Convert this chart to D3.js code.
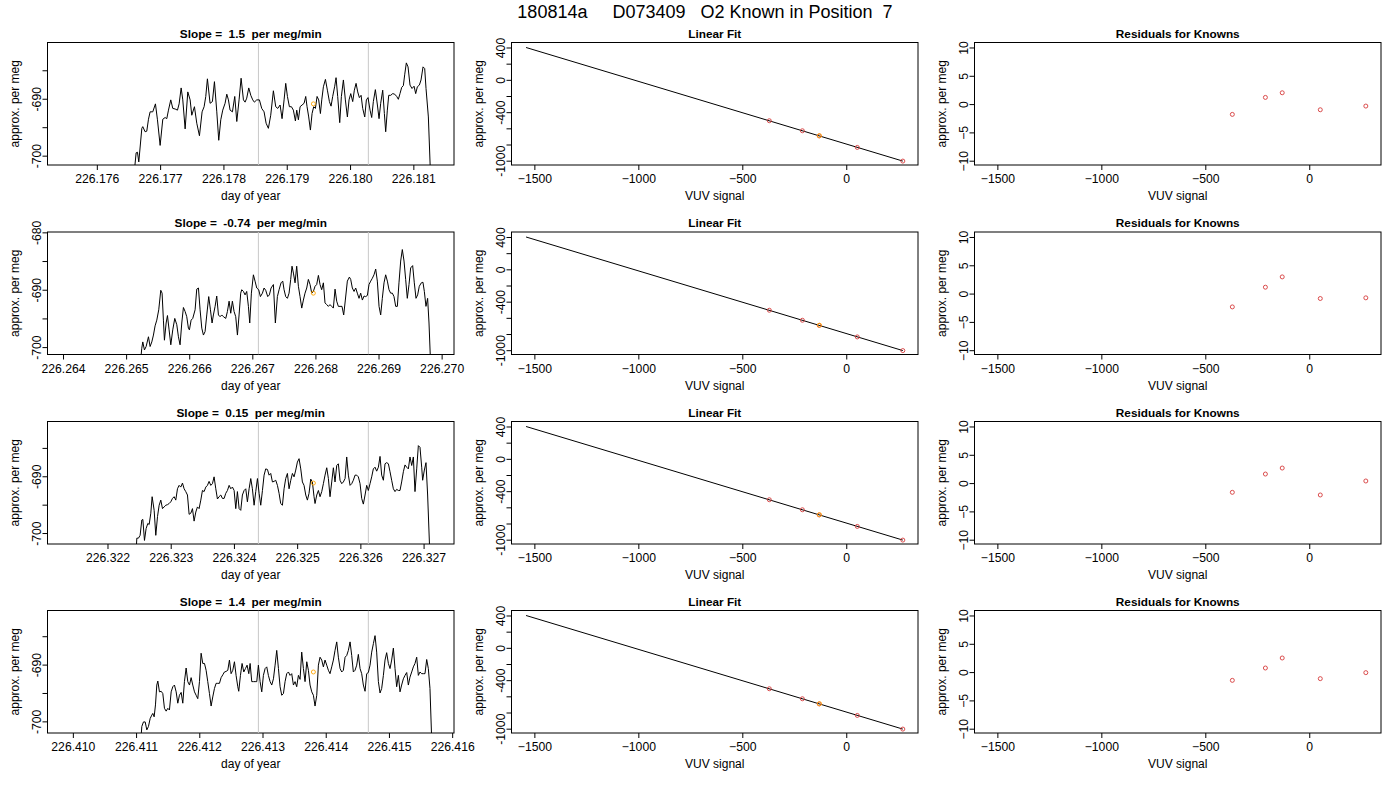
<!DOCTYPE html>
<html lang="en">
<head>
    <meta charset="UTF-8">
    <!--import D3-->
    <script src="https://d3js.org/d3.v7.min.js"></script>
    <style>
        body { margin: 0; background: #fff; }
        svg { font-family: "Liberation Sans", Arial, Helvetica, sans-serif; }
        .tick line { stroke: #000; }
        .tick text { font-size: 12.2px; fill: #000; }
        .ptitle { font-size: 11.8px; font-weight: bold; }
        .atitle { font-size: 12px; }
    </style>
</head>
<body>
    <div id="chart"></div>
</body>
<script>
    // DEFINE ALL VARS:

    const WIDTH = 1400;
    const HEIGHT = 800;
    const MAIN_TITLE = "180814a     D073409   O2 Known in Position  7";

    // plot boxes of the 4 x 3 grid
    const COL_LEFT = [47.5, 511.5, 974.5];
    const BOX_W = 406.5;
    const ROW_TOP = [42.5, 232, 421.5, 610.5];
    const BOX_H = 122.5;

    // left column: per meg vs day of year
    const SLOPES = ["1.5", "-0.74", "0.15", "1.4"];
    const DAY_BASE = [226.176, 226.264, 226.322, 226.410];
    const DAY_RANGE = [[226.175221, 226.181642], [226.263754, 226.270196], [226.321051, 226.327481], [226.409599, 226.416029]];
    const MEG_RANGE = [[-701.64, -680.12], [-701.29, -679.94], [-701.93, -680.35], [-702.05, -680.47]];
    const MEG_TICKS = [-700, -695, -690, -685, -680];
    const MEG_LABELS = [-700, -690, -680];
    // grey markers and the orange mean of the sample
    const MARK_DAYS = [[226.178553, 226.180289], [226.267096, 226.268839], [226.324387, 226.326126], [226.412935, 226.414674]];
    const SAMPLE_DAY = [226.179421, 226.267967, 226.325257, 226.413805];
    const SAMPLE_MEG = [-690.9, -690.6, -691.2, -691.3];

    // sample times, millionths of a day after DAY_BASE
    const MICRO_1 = [579, 621, 642, 663, 711, 726, 763, 789, 816, 842, 884, 926, 958, 1000, 1042, 1079, 1105, 1132, 1168, 1200, 1237, 1274, 1300, 1332, 1358, 1395, 1437, 1474, 1500, 1542, 1579, 1621, 1663, 1695, 1721, 1747, 1789, 1826, 1858, 1895, 1926, 1958, 1989, 2026, 2053, 2079, 2105, 2142, 2179, 2211, 2247, 2279, 2316, 2342, 2368, 2400, 2432, 2463, 2489, 2526, 2568, 2605, 2642, 2674, 2710, 2747, 2789, 2826, 2858, 2895, 2926, 2958, 2984, 3011, 3042, 3074, 3105, 3137, 3158, 3184, 3211, 3242, 3274, 3300, 3321, 3347, 3374, 3400, 3426, 3453, 3479, 3505, 3532, 3553, 3579, 3611, 3642, 3674, 3700, 3726, 3758, 3779, 3805, 3837, 3863, 3895, 3926, 3958, 3984, 4011, 4042, 4068, 4095, 4121, 4147, 4174, 4200, 4232, 4258, 4284, 4316, 4342, 4368, 4400, 4432, 4458, 4484, 4516, 4542, 4563, 4589, 4611, 4642, 4674, 4705, 4737, 4763, 4789, 4816, 4842, 4863, 4889, 4916, 4947, 4979, 5011, 5037, 5063, 5095, 5121, 5153, 5179, 5200, 5237, 5274];
    const MEG_1 = [-704.3, -699.5, -699.4, -701.1, -695.2, -694.9, -695.8, -695.7, -693.6, -692.3, -692.3, -690.9, -693.7, -698.2, -693.6, -693.3, -693.5, -692.0, -690.2, -691.7, -691.8, -692.0, -690.9, -688.1, -690.2, -695.3, -688.8, -690.2, -692.9, -691.4, -694.3, -696.5, -692.3, -691.4, -689.6, -686.5, -690.8, -690.5, -687.0, -692.3, -697.3, -693.7, -692.0, -690.8, -689.2, -690.2, -692.0, -692.3, -689.6, -694.0, -690.2, -686.4, -690.2, -690.6, -689.9, -688.1, -689.4, -690.2, -690.6, -690.2, -690.2, -691.7, -692.3, -694.3, -695.2, -692.9, -688.6, -691.4, -691.7, -691.1, -693.5, -690.2, -687.3, -689.6, -691.4, -691.4, -692.0, -693.9, -692.0, -693.7, -691.4, -691.1, -690.8, -689.6, -691.4, -693.2, -695.5, -692.6, -691.4, -691.7, -689.6, -690.2, -692.6, -690.2, -687.9, -686.6, -688.5, -690.5, -691.3, -689.6, -687.8, -686.3, -689.6, -694.2, -689.6, -686.7, -690.2, -693.2, -690.2, -689.1, -690.5, -688.5, -687.3, -688.8, -689.8, -689.4, -691.7, -693.2, -690.2, -689.8, -692.0, -693.3, -690.5, -688.4, -691.1, -693.5, -690.8, -688.5, -692.6, -695.8, -692.0, -689.4, -689.4, -689.1, -689.2, -689.6, -690.1, -689.1, -688.0, -687.7, -685.8, -683.7, -684.4, -687.6, -688.2, -687.8, -689.1, -687.9, -687.6, -686.7, -684.4, -684.7, -688.2, -693.2, -704.3];

    const MICRO_2 = [1211, 1248, 1264, 1290, 1317, 1354, 1380, 1407, 1433, 1459, 1486, 1517, 1549, 1570, 1591, 1607, 1634, 1655, 1681, 1708, 1739, 1771, 1803, 1829, 1855, 1882, 1908, 1935, 1961, 1987, 2003, 2030, 2056, 2093, 2119, 2146, 2172, 2199, 2225, 2251, 2278, 2309, 2336, 2362, 2383, 2410, 2436, 2463, 2489, 2515, 2542, 2579, 2605, 2632, 2658, 2684, 2711, 2737, 2764, 2790, 2816, 2832, 2859, 2885, 2911, 2938, 2959, 2985, 3017, 3043, 3070, 3101, 3128, 3160, 3186, 3212, 3244, 3270, 3297, 3334, 3365, 3397, 3424, 3455, 3482, 3503, 3529, 3556, 3582, 3608, 3629, 3651, 3677, 3703, 3730, 3756, 3783, 3809, 3835, 3862, 3888, 3915, 3941, 3967, 3994, 4020, 4047, 4073, 4099, 4126, 4152, 4179, 4205, 4231, 4258, 4284, 4311, 4337, 4363, 4390, 4421, 4448, 4474, 4506, 4538, 4559, 4585, 4612, 4638, 4664, 4691, 4717, 4744, 4770, 4796, 4823, 4849, 4876, 4902, 4928, 4955, 4981, 5008, 5034, 5060, 5087, 5113, 5140, 5166, 5192, 5219, 5245, 5272, 5298, 5324, 5351, 5377, 5404, 5430, 5456, 5483, 5509, 5541, 5567, 5594, 5620, 5646, 5678, 5704, 5726, 5752, 5778, 5800, 5831];
    const MEG_2 = [-704.6, -700.2, -699.1, -700.5, -699.9, -698.2, -699.9, -699.1, -697.9, -696.3, -695.3, -693.5, -690.1, -690.6, -695.3, -698.8, -695.8, -694.5, -697.0, -699.6, -697.0, -695.0, -696.1, -698.2, -699.6, -695.8, -693.1, -693.8, -694.7, -696.7, -697.0, -695.3, -695.0, -693.5, -689.9, -689.7, -693.5, -696.7, -697.9, -697.3, -694.4, -691.2, -693.5, -695.8, -694.4, -692.9, -691.1, -694.4, -694.7, -694.4, -694.7, -695.0, -693.8, -692.0, -694.1, -692.0, -693.8, -694.7, -697.9, -694.4, -690.6, -690.0, -690.3, -690.9, -690.3, -692.9, -695.8, -690.6, -687.4, -688.5, -689.7, -690.0, -691.2, -690.6, -689.7, -690.1, -691.2, -690.9, -689.7, -689.1, -695.8, -691.2, -690.0, -688.8, -688.5, -690.0, -691.2, -691.5, -690.6, -688.2, -685.9, -687.1, -688.8, -685.9, -689.4, -691.2, -693.2, -691.8, -690.6, -689.7, -688.2, -689.1, -690.6, -690.3, -689.4, -689.1, -687.5, -689.1, -690.0, -688.8, -692.3, -692.6, -692.9, -692.6, -692.9, -693.2, -689.9, -692.0, -692.9, -692.9, -692.9, -694.4, -691.8, -688.5, -687.8, -688.2, -689.7, -690.3, -689.7, -690.6, -691.5, -690.6, -691.8, -691.1, -691.2, -691.0, -689.1, -688.5, -688.0, -687.4, -686.4, -688.5, -692.9, -694.4, -691.5, -688.8, -687.4, -688.5, -690.0, -690.6, -690.6, -691.2, -692.9, -692.9, -688.8, -685.0, -683.0, -685.0, -688.2, -691.5, -689.1, -686.2, -685.8, -688.8, -691.5, -690.9, -689.4, -688.8, -688.7, -690.3, -692.9, -691.5, -695.8, -704.6];

    const MICRO_3 = [437, 464, 490, 516, 543, 559, 585, 611, 638, 659, 685, 706, 738, 764, 791, 817, 843, 870, 896, 922, 949, 975, 1001, 1028, 1054, 1080, 1107, 1133, 1159, 1186, 1212, 1238, 1265, 1291, 1318, 1344, 1370, 1397, 1423, 1449, 1476, 1502, 1528, 1555, 1581, 1607, 1634, 1660, 1686, 1713, 1739, 1765, 1792, 1818, 1845, 1871, 1897, 1924, 1950, 1976, 2003, 2029, 2055, 2082, 2108, 2134, 2161, 2187, 2213, 2240, 2266, 2292, 2319, 2345, 2372, 2398, 2424, 2451, 2477, 2503, 2530, 2556, 2582, 2609, 2635, 2661, 2688, 2714, 2740, 2767, 2793, 2819, 2846, 2872, 2899, 2925, 2951, 2978, 3004, 3030, 3057, 3083, 3109, 3136, 3162, 3188, 3215, 3241, 3267, 3283, 3310, 3336, 3362, 3389, 3415, 3441, 3468, 3494, 3520, 3547, 3573, 3599, 3626, 3652, 3678, 3705, 3731, 3758, 3784, 3810, 3837, 3863, 3889, 3916, 3942, 3968, 3995, 4021, 4047, 4074, 4100, 4126, 4153, 4179, 4205, 4232, 4258, 4285, 4311, 4337, 4364, 4390, 4416, 4443, 4469, 4495, 4522, 4548, 4574, 4601, 4627, 4653, 4680, 4706, 4732, 4759, 4785, 4812, 4838, 4864, 4891, 4917, 4943, 4970, 4985, 5012, 5038, 5064, 5107];
    const MEG_3 = [-706.2, -700.9, -700.9, -700.4, -697.7, -697.6, -701.3, -699.2, -698.3, -698.5, -696.5, -693.6, -696.0, -700.4, -697.1, -695.1, -694.2, -695.7, -695.4, -695.1, -695.0, -694.8, -694.5, -693.9, -693.6, -694.2, -692.2, -691.6, -691.9, -691.2, -692.2, -692.7, -693.3, -696.7, -696.5, -695.7, -697.9, -696.3, -695.4, -695.7, -694.2, -692.5, -692.7, -691.9, -691.6, -690.9, -691.6, -691.3, -690.1, -692.2, -694.0, -693.6, -693.3, -693.9, -693.9, -693.0, -692.5, -691.6, -692.2, -691.9, -692.5, -695.7, -692.7, -695.7, -696.0, -693.3, -692.5, -692.2, -694.5, -692.2, -690.4, -692.2, -695.1, -692.7, -690.4, -693.0, -695.1, -692.5, -689.8, -688.7, -688.8, -689.8, -689.5, -691.0, -690.9, -690.7, -691.6, -693.0, -694.8, -695.1, -692.2, -690.4, -689.5, -692.2, -690.7, -689.5, -690.1, -688.9, -687.5, -686.9, -688.7, -691.0, -691.6, -693.3, -694.2, -693.0, -690.5, -691.0, -693.6, -694.8, -693.3, -692.5, -693.6, -692.7, -691.3, -689.8, -688.5, -690.4, -693.6, -691.0, -688.5, -691.0, -688.1, -687.8, -690.7, -691.3, -691.0, -690.4, -686.6, -689.8, -691.6, -691.3, -690.7, -689.8, -689.8, -690.1, -691.3, -693.9, -694.9, -693.3, -691.6, -692.5, -691.3, -690.1, -688.7, -688.4, -689.1, -688.4, -686.5, -689.8, -690.7, -687.8, -687.6, -687.8, -689.2, -690.7, -692.2, -692.7, -692.3, -692.5, -692.5, -691.0, -689.2, -688.0, -688.4, -688.7, -686.6, -688.1, -686.6, -692.7, -688.7, -684.6, -684.9, -688.4, -690.7, -688.9, -687.6, -693.3, -706.2];

    const MICRO_4 = [1054, 1091, 1117, 1144, 1170, 1196, 1223, 1249, 1265, 1286, 1307, 1328, 1344, 1370, 1397, 1423, 1449, 1476, 1502, 1528, 1555, 1581, 1607, 1634, 1660, 1686, 1713, 1739, 1765, 1792, 1818, 1845, 1871, 1897, 1924, 1950, 1976, 2003, 2029, 2055, 2082, 2108, 2134, 2161, 2187, 2213, 2240, 2266, 2292, 2319, 2345, 2372, 2398, 2424, 2451, 2477, 2503, 2530, 2556, 2582, 2609, 2624, 2651, 2677, 2704, 2730, 2756, 2783, 2804, 2830, 2856, 2883, 2909, 2935, 2962, 2988, 3014, 3041, 3067, 3093, 3120, 3146, 3173, 3199, 3225, 3252, 3278, 3304, 3331, 3357, 3383, 3410, 3436, 3462, 3489, 3515, 3541, 3568, 3594, 3620, 3647, 3673, 3700, 3726, 3752, 3779, 3805, 3831, 3858, 3884, 3910, 3937, 3963, 3989, 4016, 4042, 4068, 4095, 4121, 4147, 4174, 4200, 4227, 4253, 4279, 4306, 4332, 4358, 4385, 4411, 4437, 4464, 4490, 4516, 4543, 4569, 4595, 4622, 4648, 4674, 4701, 4727, 4754, 4780, 4806, 4833, 4859, 4885, 4912, 4938, 4964, 4991, 5017, 5043, 5070, 5096, 5122, 5149, 5175, 5201, 5228, 5254, 5281, 5307, 5333, 5360, 5386, 5412, 5439, 5465, 5491, 5518, 5544, 5570, 5597, 5623, 5649, 5686];
    const MEG_4 = [-706.5, -700.9, -700.1, -700.1, -701.5, -700.9, -699.5, -698.9, -698.6, -699.2, -697.1, -693.6, -692.9, -694.8, -694.7, -695.1, -697.7, -698.2, -697.7, -698.0, -694.8, -693.9, -693.6, -694.8, -696.8, -695.4, -694.9, -696.8, -693.0, -690.6, -693.0, -693.6, -692.3, -693.6, -694.8, -695.4, -696.0, -693.0, -688.0, -689.8, -689.8, -691.0, -693.0, -695.1, -697.3, -695.7, -694.2, -693.3, -693.3, -693.3, -692.3, -691.8, -691.3, -691.2, -691.0, -689.2, -691.6, -691.0, -689.5, -691.9, -693.9, -694.7, -691.9, -689.8, -691.3, -690.7, -690.1, -691.6, -689.8, -693.0, -693.0, -693.0, -693.0, -690.1, -693.0, -694.8, -691.9, -690.7, -690.4, -691.9, -693.0, -693.6, -692.5, -690.1, -687.5, -690.7, -693.9, -695.4, -695.1, -693.0, -691.6, -691.3, -691.9, -691.6, -693.6, -693.0, -693.9, -691.9, -692.6, -687.8, -690.7, -693.0, -689.5, -691.0, -693.6, -694.8, -695.4, -697.3, -695.4, -690.1, -688.7, -689.2, -690.4, -689.2, -690.1, -691.0, -691.6, -690.4, -689.2, -687.5, -686.0, -688.7, -690.7, -691.3, -691.0, -688.7, -688.4, -687.5, -686.0, -688.4, -691.3, -691.0, -690.1, -688.2, -690.7, -691.6, -693.6, -694.7, -691.6, -691.4, -690.1, -687.8, -686.3, -684.9, -687.8, -693.0, -695.0, -694.2, -691.9, -689.2, -687.9, -689.8, -690.7, -689.2, -687.1, -690.7, -693.9, -691.9, -694.8, -693.6, -692.5, -691.9, -691.4, -693.6, -692.2, -691.3, -690.4, -689.8, -688.7, -691.9, -691.3, -691.6, -691.6, -691.6, -689.1, -690.7, -694.2, -706.5];

    const MICROS = [MICRO_1, MICRO_2, MICRO_3, MICRO_4];
    const MEGS = [MEG_1, MEG_2, MEG_3, MEG_4];

    // middle column: linear fit of the knowns
    const VUV_RANGE = [-1610, 345];
    const VUV_TICKS = [-1500, -1000, -500, 0];
    const FIT_RANGE = [-1053.5, 461.8];
    const FIT_TICKS = [-1000, -800, -600, -400, -200, 0, 200, 400];
    const FIT_LABELS = [400, 0, -400, -1000];
    const KNOWN_VUV = [-370, -211, -130, 53, 272];
    const KNOWN_MEG = [-506, -630, -694, -836, -1005];
    const FIT_VUV = [-1540, 272];
    const FIT_MEG = [400, -1005];
    const SAMPLE_VUV = -129;

    // right column: residuals of the knowns
    const RES_RANGE = [-10.76, 10.88];
    const RES_TICKS = [-10, -5, 0, 5, 10];
    const RESIDUALS = [
        [-1.82, 1.18, 2.0, -1.0, -0.35],
        [-2.35, 1.13, 2.95, -0.87, -0.75],
        [-1.63, 1.6, 2.66, -2.1, 0.37],
        [-1.46, 0.72, 2.49, -1.16, -0.1]
    ];

    const KNOWN_COLOR = "#d63a3a";
    const SAMPLE_COLOR = "orange";

    // CONSTRUCT D3 SVG:

    const svg = d3.select("#chart").append("svg")
        .attr("width", WIDTH)
        .attr("height", HEIGHT);

    svg.append("text")
        .attr("x", 705)
        .attr("y", 17.5)
        .attr("text-anchor", "middle")
        .attr("xml:space", "preserve")
        .style("font-size", "18px")
        .style("white-space", "pre")
        .text(MAIN_TITLE);

    // draws box, axes, titles of one panel; returns a clipped group
    function drawFrame(id, x, y, xTicks, xFmt, yTicks, yFmt, title, xTitle) {
        const [x0, x1] = x.range();
        const [yb, yt] = y.range();
        const g = svg.append("g");

        const gx = g.append("g")
            .attr("transform", `translate(0,${yb})`)
            .call(d3.axisBottom(x).tickValues(xTicks).tickSize(5).tickFormat(xFmt));
        gx.attr("font-size", null).attr("font-family", null);
        gx.select(".domain").remove();
        gx.selectAll(".tick text").attr("y", 18.3).attr("dy", null);

        const gy = g.append("g")
            .attr("transform", `translate(${x0},0)`)
            .call(d3.axisLeft(y).tickValues(yTicks).tickSize(5).tickFormat(yFmt));
        gy.attr("font-size", null).attr("font-family", null);
        gy.select(".domain").remove();
        gy.selectAll(".tick text")
            .attr("x", null).attr("dy", null)
            .attr("text-anchor", "middle")
            .attr("transform", "translate(-6.5,0) rotate(-90)");

        g.append("rect")
            .attr("x", x0).attr("y", yt)
            .attr("width", x1 - x0).attr("height", yb - yt)
            .attr("fill", "none").attr("stroke", "#000").attr("stroke-width", 1);

        g.append("text").attr("class", "ptitle")
            .attr("x", (x0 + x1) / 2).attr("y", yt - 5)
            .attr("text-anchor", "middle")
            .attr("xml:space", "preserve").style("white-space", "pre")
            .text(title);
        g.append("text").attr("class", "atitle")
            .attr("x", (x0 + x1) / 2).attr("y", yb + 35)
            .attr("text-anchor", "middle")
            .text(xTitle);
        g.append("text").attr("class", "atitle")
            .attr("text-anchor", "middle")
            .attr("transform", `translate(${x0 - 29},${(yb + yt) / 2}) rotate(-90)`)
            .text("approx. per meg");

        svg.append("clipPath").attr("id", id)
            .append("rect")
            .attr("x", x0).attr("y", yt)
            .attr("width", x1 - x0).attr("height", yb - yt);
        return svg.append("g").attr("clip-path", `url(#${id})`);
    }

    // open circles, R pch = 1 style
    function circles(g, xs, ys, color) {
        g.selectAll(null)
            .data(d3.zip(xs, ys))
            .enter()
            .append("circle")
            .attr("cx", d => d[0]).attr("cy", d => d[1])
            .attr("r", 2)
            .attr("fill", "none")
            .attr("stroke", color)
            .attr("stroke-width", 0.9);
    }

    for (let r = 0; r < 4; r++) {
        const top = ROW_TOP[r];
        const bottom = top + BOX_H;

        // LEFT: time series
        const xDay = d3.scaleLinear().domain(DAY_RANGE[r]).range([COL_LEFT[0], COL_LEFT[0] + BOX_W]);
        const yMeg = d3.scaleLinear().domain(MEG_RANGE[r]).range([bottom, top]);
        const dayTicks = xDay.ticks(6);
        const megTicks = MEG_TICKS.filter(v => v >= MEG_RANGE[r][0] && v <= MEG_RANGE[r][1]);
        const gL = drawFrame("clipL" + r, xDay, yMeg, dayTicks, d3.format(".3f"),
            megTicks, v => MEG_LABELS.includes(v) ? v : "",
            "Slope =  " + SLOPES[r] + "  per meg/min", "day of year");

        gL.selectAll(null)
            .data(MARK_DAYS[r])
            .enter()
            .append("line")
            .attr("x1", d => xDay(d)).attr("x2", d => xDay(d))
            .attr("y1", top).attr("y2", bottom)
            .attr("stroke", "#c8c8c8").attr("stroke-width", 1);

        const series = MICROS[r].map((m, i) => ({ day: DAY_BASE[r] + m / 1e6, meg: MEGS[r][i] }));
        gL.append("path")
            .datum(series)
            .attr("fill", "none")
            .attr("stroke", "#000")
            .attr("stroke-width", 1)
            .attr("stroke-linejoin", "round")
            .attr("d", d3.line().x(d => xDay(d.day)).y(d => yMeg(d.meg)));

        circles(gL, [xDay(SAMPLE_DAY[r])], [yMeg(SAMPLE_MEG[r])], SAMPLE_COLOR);

        // MIDDLE: linear fit
        const xVuv = d3.scaleLinear().domain(VUV_RANGE).range([COL_LEFT[1], COL_LEFT[1] + BOX_W]);
        const yFit = d3.scaleLinear().domain(FIT_RANGE).range([bottom, top]);
        const gM = drawFrame("clipM" + r, xVuv, yFit, VUV_TICKS, d3.format("d"),
            FIT_TICKS, v => FIT_LABELS.includes(v) ? v : "", "Linear Fit", "VUV signal");

        gM.append("path")
            .datum(d3.zip(FIT_VUV, FIT_MEG))
            .attr("fill", "none").attr("stroke", "#000").attr("stroke-width", 1)
            .attr("d", d3.line().x(d => xVuv(d[0])).y(d => yFit(d[1])));
        circles(gM, KNOWN_VUV.map(xVuv), KNOWN_MEG.map(yFit), KNOWN_COLOR);
        circles(gM, [xVuv(SAMPLE_VUV)], [yFit(SAMPLE_MEG[r])], SAMPLE_COLOR);

        // RIGHT: residuals
        const xRes = d3.scaleLinear().domain(VUV_RANGE).range([COL_LEFT[2], COL_LEFT[2] + BOX_W]);
        const yRes = d3.scaleLinear().domain(RES_RANGE).range([bottom, top]);
        const gR = drawFrame("clipR" + r, xRes, yRes, VUV_TICKS, d3.format("d"),
            RES_TICKS, d3.format("d"), "Residuals for Knowns", "VUV signal");
        circles(gR, KNOWN_VUV.map(xRes), RESIDUALS[r].map(yRes), KNOWN_COLOR);
    }
</script>
</html>
